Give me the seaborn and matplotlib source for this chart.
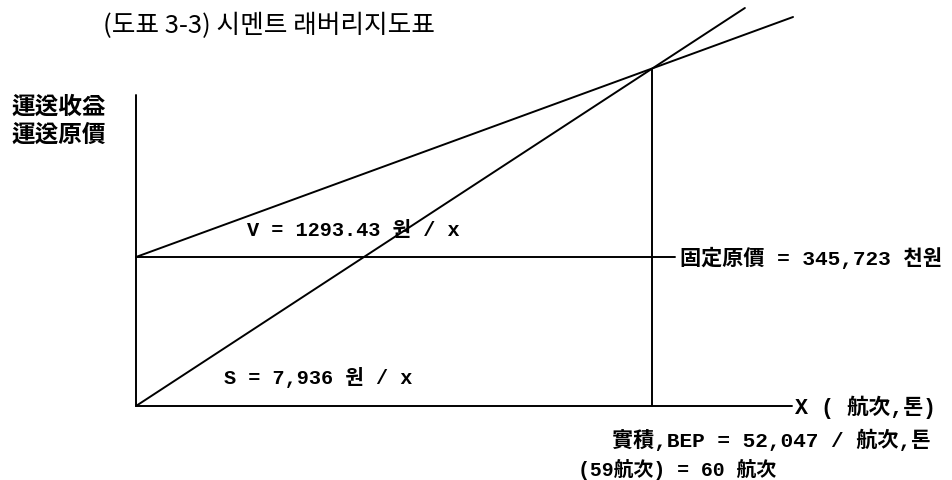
import numpy as np
import pandas as pd
import matplotlib
matplotlib.use("Agg")
import matplotlib.pyplot as plt
import seaborn as sns

sns.set_theme(style="white")
plt.rcParams["font.family"] = ["Noto Sans CJK KR", "DejaVu Sans"]

# Schematic break-even chart: x in voyages (航次), y in thousand won (천원)
fixed_cost = 345723           # 固定原價, 천원
bep_voyages = 60              # break-even point in voyages
axis_x_max = 76.3             # end of the volume axis
axis_y_max = 721600           # top of the value axis

revenue_x = [0, 70.8]         # 運送收益 line (S)
revenue_y = [0, 923500]
cost_x = [0, 76.4]            # 運送原價 line (fixed + V)
cost_y = [345723, 902600]
fixed_x = [0, 62.7]           # fixed-cost level line
fixed_y = [fixed_cost, fixed_cost]

title = "(도표 3-3) 시멘트 래버리지도표"
ylabel_lines = ["運送收益", "運送原價"]
v_label = "V = 1293.43 원 / x"
s_label = "S = 7,936 원 / x"
fixed_label = "固定原價 = 345,723 천원"
x_label = "X ( 航次,톤)"
bep_label = "實積,BEP = 52,047 / 航次,톤"
voy_label = "(59航次) = 60 航次"

W, H = 952, 481
fig = plt.figure(figsize=(W / 100, H / 100), dpi=100)
ax = fig.add_axes([0, 0, 1, 1])

# pixel layout of the plotting frame
x0_px, y0_px = 136, 407
px_per_voy = (652 - 136) / bep_voyages
val_per_px = fixed_cost / (407 - 258)
ax.set_xlim(-x0_px / px_per_voy, (W - x0_px) / px_per_voy)
ax.set_ylim(-(H - y0_px) * val_per_px, y0_px * val_per_px)
ax.axis("off")

lw = 1.4
line_kw = dict(color="black", linewidth=lw, estimator=None, sort=False, ax=ax)
sns.lineplot(x=revenue_x, y=revenue_y, **line_kw)
sns.lineplot(x=cost_x, y=cost_y, **line_kw)
sns.lineplot(x=fixed_x, y=fixed_y, **line_kw)
# axes
sns.lineplot(x=[0, 0], y=[0, axis_y_max], **line_kw)
sns.lineplot(x=[0, axis_x_max], y=[0, 0], **line_kw)
# vertical drop at the break-even point
rev_slope = (revenue_y[1] - revenue_y[0]) / (revenue_x[1] - revenue_x[0])
sns.lineplot(x=[bep_voyages, bep_voyages], y=[0, rev_slope * bep_voyages], **line_kw)

mono = ["Liberation Mono", "Noto Sans CJK KR", "DejaVu Sans"]
cjk = ["Noto Sans CJK KR", "DejaVu Sans"]


def put(px, py, s, size, family, weight="bold", ha="left"):
    fig.text(px / W, 1 - py / H, s, fontsize=size, family=family,
             fontweight=weight, ha=ha, va="center", color="black")


put(103, 26, title, 18.5, cjk, weight="medium")
put(11, 107, ylabel_lines[0], 17, cjk)
put(11, 135, ylabel_lines[1], 17, cjk)
put(247, 231, v_label, 14.6, mono)
put(224, 378, s_label, 14.6, mono)
put(680, 258, fixed_label, 15.2, mono)
put(795, 407, x_label, 15.6, mono)
put(612, 440, bep_label, 15.2, mono)
put(578, 470, voy_label, 14.3, mono)

fig.savefig("out.png", dpi=100)
